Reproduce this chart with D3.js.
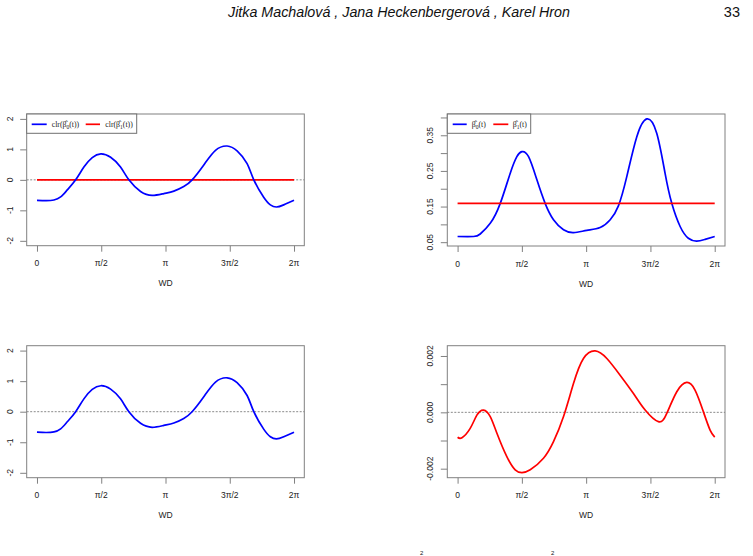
<!DOCTYPE html>
<html>
<head>
<meta charset="utf-8">
<script src="https://cdn.jsdelivr.net/npm/d3@7/dist/d3.min.js"></script>
<style>
  html, body { margin: 0; padding: 0; background: #fff; }
  svg { display: block; }
  text { font-family: "Liberation Sans", Arial, sans-serif; }
</style>
</head>
<body>
<svg id="chart" width="753" height="556"></svg>
<script>
// ---------- data (t given in multiples of π) ----------
const clrT    = [0, 0.07, 0.132, 0.184, 0.236, 0.301, 0.365, 0.430, 0.497, 0.573, 0.650, 0.715, 0.806, 0.896, 0.987, 1.065, 1.142, 1.207, 1.298, 1.389, 1.479, 1.557, 1.635, 1.687, 1.764, 1.816, 1.863, 1.920, 2.0];
const clrB0   = [-0.67, -0.68, -0.66, -0.56, -0.33, 0.0, 0.42, 0.73, 0.85, 0.74, 0.42, 0.0, -0.38, -0.51, -0.45, -0.37, -0.22, 0.0, 0.49, 0.97, 1.11, 0.95, 0.53, 0.0, -0.57, -0.82, -0.89, -0.82, -0.67];
const clrB1   = 0;

const densT   = [0, 0.124, 0.176, 0.254, 0.332, 0.409, 0.461, 0.5, 0.552, 0.617, 0.681, 0.746, 0.824, 0.902, 1.005, 1.109, 1.187, 1.251, 1.316, 1.394, 1.472, 1.549, 1.614, 1.666, 1.731, 1.795, 1.860, 1.925, 2.0];
const densB0  = [0.066, 0.066, 0.073, 0.103, 0.159, 0.243, 0.290, 0.304, 0.290, 0.225, 0.159, 0.113, 0.085, 0.077, 0.083, 0.091, 0.113, 0.152, 0.234, 0.346, 0.396, 0.356, 0.243, 0.159, 0.094, 0.061, 0.053, 0.058, 0.066];
const densB1  = 0.159;

const diffT   = [0, 0.034, 0.098, 0.150, 0.202, 0.254, 0.306, 0.383, 0.448, 0.5, 0.565, 0.668, 0.746, 0.824, 0.902, 0.979, 1.070, 1.161, 1.264, 1.368, 1.459, 1.562, 1.627, 1.705, 1.782, 1.847, 1.912, 1.964, 2.0];
const diffVal = [-0.000885, -0.0009, -0.00057, -0.0001, 0.00008, -0.00015, -0.00074, -0.00157, -0.00204, -0.00214, -0.00204, -0.00163, -0.00104, -0.00015, 0.00103, 0.00191, 0.00218, 0.00191, 0.00132, 0.00067, 0.00008, -0.00033, -0.00004, 0.00073, 0.00106, 0.00079, 0.00002, -0.00063, -0.00088];

const xTickVals   = [0, 0.5, 1, 1.5, 2];
const xTickLabels = ["0", "π/2", "π", "3π/2", "2π"];
const xLabel = "WD";

const yTicks1 = [-2, -1, 0, 1, 2];
const yLabels1 = ["-2", "-1", "0", "1", "2"];
const yTicks2 = [0.05, 0.10, 0.15, 0.20, 0.25, 0.30, 0.35, 0.40];
const yLabels2 = ["0.05", "", "0.15", "", "0.25", "", "0.35", ""];
const yTicks4 = [-0.002, -0.001, 0, 0.001, 0.002];
const yLabels4 = ["-0.002", "", "0.000", "", "0.002"];

const headerText = "Jitka Machalová , Jana Heckenbergerová , Karel Hron";
const pageNum = "33";

// ---------- drawing ----------
const svg = d3.select("#chart");
const BOX = "#808080", TXT = "#222";

function panel(o) {
  const g = svg.append("g");
  const x = d3.scaleLinear().domain([-0.08 * Math.PI, 2.08 * Math.PI]).range([o.L, o.R]);
  const y = d3.scaleLinear().domain(o.yDom).range([o.B, o.T]);

  const ya = g.append("g").attr("transform", `translate(${o.L},0)`)
    .call(d3.axisLeft(y).tickValues(o.yTicks).tickSize(6.5).tickFormat(() => ""));
  ya.select(".domain").remove();
  ya.selectAll("line").attr("stroke", BOX);
  o.yTicks.forEach((v, i) => {
    if (!o.yLabels[i]) return;
    g.append("text").attr("transform", `translate(${o.L - 14},${y(v)}) rotate(-90)`)
      .attr("text-anchor", "middle").attr("font-size", 8.5).attr("fill", TXT)
      .text(o.yLabels[i]);
  });

  const xa = g.append("g").attr("transform", `translate(0,${o.B})`)
    .call(d3.axisBottom(x).tickValues(xTickVals.map(v => v * Math.PI)).tickSize(6).tickFormat(() => ""));
  xa.select(".domain").remove();
  xa.selectAll("line").attr("stroke", BOX);
  xTickVals.forEach((v, i) => {
    g.append("text").attr("x", x(v * Math.PI)).attr("y", o.B + 20.5)
      .attr("text-anchor", "middle").attr("font-size", 8.5).attr("fill", TXT)
      .text(xTickLabels[i]);
  });
  g.append("text").attr("x", (o.L + o.R) / 2).attr("y", o.B + 40.5)
    .attr("text-anchor", "middle").attr("font-size", 8.5).attr("fill", TXT).text(xLabel);

  if (o.zero) {
    g.append("line").attr("x1", o.L).attr("x2", o.R).attr("y1", y(0)).attr("y2", y(0))
      .attr("stroke", "#8a8a8a").attr("stroke-width", 1).attr("stroke-dasharray", "2,1.5");
  }

  const line = d3.line().x(d => x(d[0] * Math.PI)).y(d => y(d[1])).curve(d3.curveNatural);
  o.series.forEach(s => {
    const pts = s.t.map((t, i) => [t, s.v[i]]);
    g.append("path").attr("d", line(pts)).attr("fill", "none")
      .attr("stroke", s.color).attr("stroke-width", 1.7).attr("stroke-linejoin", "round");
  });

  g.append("rect").attr("x", o.L).attr("y", o.T).attr("width", o.R - o.L).attr("height", o.B - o.T)
    .attr("fill", "none").attr("stroke", BOX).attr("stroke-width", 1);

  if (o.legend) {
    const lg = o.legend;
    g.append("rect").attr("x", o.L).attr("y", o.T).attr("width", lg.w).attr("height", 19.3)
      .attr("fill", "#fff").attr("stroke", "#707070").attr("stroke-width", 1);
    lg.items.forEach(it => {
      g.append("line").attr("x1", o.L + it.x1).attr("x2", o.L + it.x2)
        .attr("y1", o.T + 10.3).attr("y2", o.T + 10.3).attr("stroke", it.color).attr("stroke-width", 1.7);
      const t = g.append("text").attr("x", o.L + it.tx).attr("y", o.T + 12.8)
        .attr("font-size", 7.8).attr("fill", TXT).style("font-family", "'Liberation Serif', serif");
      t.append("tspan").text(it.pre + "β\u0302");
      t.append("tspan").attr("dy", 1.8).attr("font-size", 5.5).text(it.sub);
      t.append("tspan").attr("dy", -1.8).text(it.post);
    });
  }
}

panel({
  L: 26.7, R: 304.3, T: 114, B: 245.7, yDom: [-2.16, 2.16],
  yTicks: yTicks1, yLabels: yLabels1, zero: true,
  series: [
    { t: [0, 2], v: [clrB1, clrB1], color: "#ff0000" },
    { t: clrT, v: clrB0, color: "#0000ff" }
  ],
  legend: { w: 110, items: [
    { x1: 5, x2: 20, tx: 25, color: "#0000ff", pre: "clr(", sub: "0", post: "(t))" },
    { x1: 59, x2: 73.3, tx: 78.6, color: "#ff0000", pre: "clr(", sub: "1", post: "(t))" }
  ] }
});

panel({
  L: 447.3, R: 725, T: 114, B: 246, yDom: [0.0393, 0.4097],
  yTicks: yTicks2, yLabels: yLabels2, zero: false,
  series: [
    { t: densT, v: densB0, color: "#0000ff" },
    { t: [0, 2], v: [densB1, densB1], color: "#ff0000" }
  ],
  legend: { w: 83.4, items: [
    { x1: 5.4, x2: 19.4, tx: 24.4, color: "#0000ff", pre: "", sub: "0", post: "(t)" },
    { x1: 46, x2: 61, tx: 65.4, color: "#ff0000", pre: "", sub: "1", post: "(t)" }
  ] }
});

panel({
  L: 26.7, R: 304.3, T: 345.7, B: 477.7, yDom: [-2.16, 2.16],
  yTicks: yTicks1, yLabels: yLabels1, zero: true,
  series: [{ t: clrT, v: clrB0, color: "#0000ff" }]
});

panel({
  L: 447.3, R: 725, T: 345.7, B: 477.7, yDom: [-0.00232, 0.002365],
  yTicks: yTicks4, yLabels: yLabels4, zero: true,
  series: [{ t: diffT, v: diffVal, color: "#ff0000" }]
});

svg.append("text").attr("x", 228).attr("y", 17).attr("font-size", 14.5)
  .attr("font-style", "italic").attr("fill", "#111")
  .attr("textLength", 342).attr("lengthAdjust", "spacingAndGlyphs").text(headerText);
svg.append("text").attr("x", 740).attr("y", 17).attr("font-size", 14.5)
  .attr("text-anchor", "end").attr("fill", "#111").text(pageNum);

// fragments of the cut-off formula at the bottom edge
svg.append("text").attr("x", 420).attr("y", 555).attr("font-size", 6).attr("fill", "#111").text("2");
svg.append("text").attr("x", 551).attr("y", 555).attr("font-size", 6).attr("fill", "#111").text("2");
</script>
</body>
</html>
